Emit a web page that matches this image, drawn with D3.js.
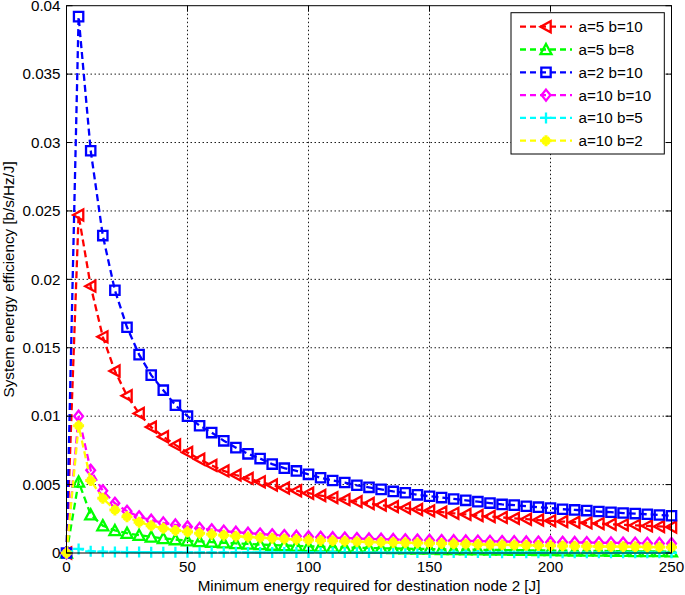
<!DOCTYPE html>
<html><head><meta charset="utf-8">
<script src="https://cdn.jsdelivr.net/npm/d3@7"></script>
<style>body{margin:0;background:#fff}svg{display:block;font-family:"Liberation Sans",Arial,sans-serif}</style>
</head><body><svg id="c" width="685" height="595"></svg>
<script>
const xValues = d3.range(0, 251, 5);
const redVals = [0,24.7,19.5,15.8,13.3,11.5,10.2,9.2,8.5,7.9,7.35,6.85,6.4,6.0,5.7,5.45,5.2,4.97,4.75,4.55,4.37,4.2,4.05,3.9,3.75,3.62,3.5,3.39,3.28,3.18,3.08,2.99,2.9,2.82,2.74,2.67,2.6,2.53,2.47,2.41,2.35,2.3,2.25,2.2,2.15,2.1,2.06,2.02,1.98,1.94,1.9];
const greenVals = [0,5.2,2.8,2.0,1.65,1.45,1.3,1.18,1.07,0.98,0.9,0.85,0.8,0.75,0.7,0.66,0.62,0.58,0.55,0.52,0.49,0.46,0.44,0.41,0.39,0.37,0.35,0.33,0.32,0.3,0.29,0.27,0.26,0.25,0.24,0.23,0.22,0.21,0.2,0.19,0.18,0.17,0.16,0.15,0.15,0.14,0.13,0.12,0.12,0.11,0.1];
const blueVals = [0,39.2,29.4,23.2,19.2,16.5,14.5,13.0,11.9,10.8,10.0,9.3,8.8,8.2,7.7,7.25,6.9,6.5,6.2,6.0,5.75,5.5,5.3,5.15,4.95,4.8,4.65,4.5,4.4,4.25,4.15,4.05,3.95,3.85,3.75,3.65,3.55,3.5,3.42,3.35,3.28,3.2,3.15,3.1,3.03,2.98,2.92,2.88,2.83,2.78,2.72];
const magentaVals = [0,10.0,6.05,4.55,3.63,3.05,2.65,2.4,2.2,2.05,1.92,1.8,1.7,1.6,1.52,1.45,1.39,1.33,1.28,1.23,1.19,1.15,1.12,1.09,1.06,1.03,1.01,0.99,0.97,0.95,0.93,0.91,0.9,0.88,0.87,0.85,0.84,0.83,0.81,0.8,0.79,0.78,0.77,0.76,0.75,0.74,0.73,0.72,0.71,0.7,0.69];
const cyanVals = [0,0.3,0.12,0.09,0.08,0.07,0.07,0.06,0.06,0.06,0.05,0.05,0.05,0.05,0.05,0.04,0.04,0.04,0.04,0.04,0.04,0.04,0.04,0.03,0.03,0.03,0.03,0.03,0.03,0.03,0.03,0.03,0.03,0.03,0.03,0.03,0.02,0.02,0.02,0.02,0.02,0.02,0.02,0.02,0.02,0.02,0.02,0.02,0.02,0.02,0.02];
const yellowVals = [0,9.3,5.3,4.0,3.15,2.65,2.25,2.0,1.8,1.65,1.55,1.45,1.37,1.3,1.23,1.17,1.12,1.07,1.03,0.99,0.95,0.92,0.89,0.86,0.83,0.81,0.79,0.77,0.75,0.73,0.71,0.69,0.67,0.65,0.63,0.61,0.6,0.58,0.56,0.55,0.53,0.52,0.5,0.49,0.48,0.47,0.46,0.45,0.44,0.43,0.42];
const seriesNames = ["a=5 b=10","a=5 b=8","a=2 b=10","a=10 b=10","a=10 b=5","a=10 b=2"];
const seriesColors = ["#ff0000","#00ff00","#0000ff","#ff00ff","#00ffff","#ffff00"];
const seriesMarkers = ["triLeft","triUp","square","diamond","plus","star"];
const seriesValues = [redVals, greenVals, blueVals, magentaVals, cyanVals, yellowVals];
const xTicks = [0,50,100,150,200,250];
const yTicks = [0,0.005,0.01,0.015,0.02,0.025,0.03,0.035,0.04];
const yTickLabels = ["0","0.005","0.01","0.015","0.02","0.025","0.03","0.035","0.04"];
const xLabel = "Minimum energy required for destination node 2 [J]";
const yLabel = "System energy efficiency [b/s/Hz/J]";

const svg = d3.select("#c");
const L = 66.5, R = 671.5, T = 5.7, B = 553;
const x = d3.scaleLinear().domain([0,250]).range([L,R]);
const y = d3.scaleLinear().domain([0,0.04]).range([B,T]);

// grid
const g = svg.append("g");
g.selectAll(".gx").data(xTicks.slice(1,-1)).join("line")
  .attr("x1",d=>x(d)).attr("x2",d=>x(d)).attr("y1",T).attr("y2",B)
  .attr("stroke","#000").attr("stroke-width",0.9).attr("stroke-dasharray","1.5,2.5");
g.selectAll(".gy").data(yTicks.slice(1,-1)).join("line")
  .attr("x1",L).attr("x2",R).attr("y1",d=>y(d)).attr("y2",d=>y(d))
  .attr("stroke","#000").attr("stroke-width",0.9).attr("stroke-dasharray","1.5,2.5");

// markers
function markerPath(type, s){
  const p = d3.path();
  if(type==="triLeft"){ p.moveTo(-s,0); p.lineTo(s*0.85,-s); p.lineTo(s*0.85,s); p.closePath(); }
  else if(type==="triUp"){ p.moveTo(0,-s); p.lineTo(s,s*0.85); p.lineTo(-s,s*0.85); p.closePath(); }
  else if(type==="square"){ const h=s*0.85; p.rect(-h,-h,2*h,2*h); }
  else if(type==="diamond"){ p.moveTo(0,-s); p.lineTo(s*0.8,0); p.lineTo(0,s); p.lineTo(-s*0.8,0); p.closePath(); }
  else if(type==="plus"){ p.moveTo(-s,0); p.lineTo(s,0); p.moveTo(0,-s); p.lineTo(0,s); }
  else if(type==="star"){ p.moveTo(-s,0); p.lineTo(s,0); p.moveTo(0,-s); p.lineTo(0,s);
    const d=s*0.6; p.moveTo(-d,-d); p.lineTo(d,d); p.moveTo(-d,d); p.lineTo(d,-d); }
  return p.toString();
}

const line = d3.line().x(d=>x(d[0])).y(d=>y(d[1]));
const plot = svg.append("g");
seriesValues.forEach((vals,i)=>{
  const pts = xValues.map((xv,j)=>[xv, vals[j]/1000]);
  plot.append("path").attr("d", line(pts)).attr("fill","none")
    .attr("stroke", seriesColors[i]).attr("stroke-width",2.3).attr("stroke-dasharray","7,4");
  plot.selectAll(null).data(pts).join("path")
    .attr("transform", d=>`translate(${x(d[0])},${y(d[1])})`)
    .attr("d", markerPath(seriesMarkers[i], 5.5))
    .attr("fill", "none")
    .attr("stroke", seriesColors[i]).attr("stroke-width", seriesMarkers[i]==="star"?3:2.3);
});

// box and ticks
svg.append("rect").attr("x",L).attr("y",T).attr("width",R-L).attr("height",B-T)
  .attr("fill","none").attr("stroke","#000").attr("stroke-width",1);
const tl = 6;
xTicks.forEach(t=>{
  svg.append("line").attr("x1",x(t)).attr("x2",x(t)).attr("y1",B).attr("y2",B-tl).attr("stroke","#000");
  svg.append("line").attr("x1",x(t)).attr("x2",x(t)).attr("y1",T).attr("y2",T+tl).attr("stroke","#000");
});
yTicks.forEach(t=>{
  svg.append("line").attr("x1",L).attr("x2",L+tl).attr("y1",y(t)).attr("y2",y(t)).attr("stroke","#000");
  svg.append("line").attr("x1",R).attr("x2",R-tl).attr("y1",y(t)).attr("y2",y(t)).attr("stroke","#000");
});
svg.selectAll(".xt").data(xTicks).join("text")
  .attr("x",d=>x(d)).attr("y",B+19).attr("text-anchor","middle")
  .attr("font-size",15.2).text(d=>d);
svg.selectAll(".yt").data(yTicks).join("text")
  .attr("x",L-6).attr("y",d=>y(d)+5.3).attr("text-anchor","end")
  .attr("font-size",15.2).text((d,i)=>yTickLabels[i]);
svg.append("text").attr("x",369).attr("y",591).attr("text-anchor","middle")
  .attr("font-size",15.2).text(xLabel);
svg.append("text").attr("transform",`translate(14,${(T+B)/2}) rotate(-90)`).attr("text-anchor","middle")
  .attr("font-size",15.2).text(yLabel);

// legend
const lg = svg.append("g");
lg.append("rect").attr("x",511).attr("y",12.7).attr("width",153.3).attr("height",141.3)
  .attr("fill","#fff").attr("stroke","#000").attr("stroke-width",1);
seriesNames.forEach((n,i)=>{
  const yy = 26.7 + i*22.8;
  lg.append("line").attr("x1",520).attr("x2",572).attr("y1",yy).attr("y2",yy)
    .attr("stroke",seriesColors[i]).attr("stroke-width",2.3).attr("stroke-dasharray","6,4");
  lg.append("path").attr("transform",`translate(546,${yy})`).attr("d",markerPath(seriesMarkers[i],5.5))
    .attr("fill","none").attr("stroke",seriesColors[i]).attr("stroke-width", seriesMarkers[i]==="star"?3:2.3);
  lg.append("text").attr("x",578.5).attr("y",yy+5.5).attr("font-size",15.2).text(n);
});
</script></body></html>
